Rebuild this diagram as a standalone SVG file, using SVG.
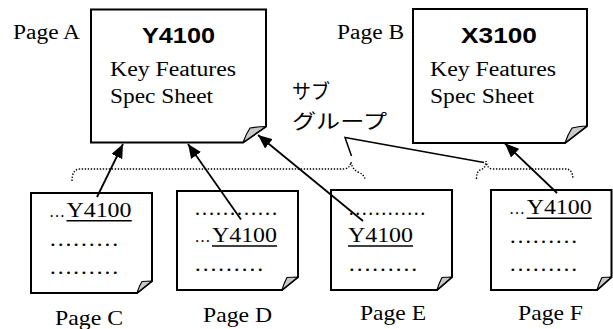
<svg xmlns="http://www.w3.org/2000/svg" width="613" height="329" viewBox="0 0 613 329">
<defs>
<style>
.box{fill:#fff;stroke:#000;stroke-width:2;stroke-linejoin:miter}
.fold{fill:#c8c8c8;stroke:#000;stroke-width:1.2;stroke-linejoin:round}
.t{font-family:"Liberation Serif",serif;fill:#000}
.b{font-family:"Liberation Sans",sans-serif;font-weight:bold;fill:#000}
.jp{font-family:"Liberation Serif","Noto Sans CJK JP",serif;fill:#000}
.ul{stroke:#000;stroke-width:1.5}
.arrow{stroke:#000;stroke-width:1.8;fill:none}
.brace{stroke:#000;stroke-width:1.4;fill:none;stroke-dasharray:1.4 1.6}
.call{stroke:#000;stroke-width:1.5;fill:none}
.el{font-size:16px}
</style>
<marker id="ah" markerUnits="userSpaceOnUse" markerWidth="15" markerHeight="12" refX="14" refY="6" orient="auto">
<path d="M0,0 L14,6 L0,12 Z" fill="#000"/>
</marker>
</defs>

<g id="pageA">
<path class="box" d="M91,9.5 H266 V126.5 L243,142.5 H91 Z"/>
<path class="fold" d="M243,142.5 Q246,134 250,128 Q258,126.5 266,126.5 Z"/>
<text class="t" x="13" y="39" font-size="20" textLength="67" lengthAdjust="spacingAndGlyphs">Page A</text>
<text class="b" x="142" y="43" font-size="22" textLength="73" lengthAdjust="spacingAndGlyphs">Y4100</text>
<text class="t" x="110" y="76" font-size="20" textLength="126" lengthAdjust="spacingAndGlyphs">Key Features</text>
<text class="t" x="110" y="103" font-size="20" textLength="103" lengthAdjust="spacingAndGlyphs">Spec Sheet</text>
</g>

<g id="pageB">
<path class="box" d="M413,9 H587 V126 L565,143 H413 Z"/>
<path class="fold" d="M565,143 Q568,134 572,128 Q580,126 587,126 Z"/>
<text class="t" x="337" y="39" font-size="20" textLength="67" lengthAdjust="spacingAndGlyphs">Page B</text>
<text class="b" x="461" y="43" font-size="22" textLength="76" lengthAdjust="spacingAndGlyphs">X3100</text>
<text class="t" x="430" y="76" font-size="20" textLength="126" lengthAdjust="spacingAndGlyphs">Key Features</text>
<text class="t" x="430" y="103" font-size="20" textLength="104" lengthAdjust="spacingAndGlyphs">Spec Sheet</text>
</g>

<g id="pageC">
<path class="box" d="M31,193 H152 V281 L137,293 H31 Z"/>
<path class="fold" d="M137,293 Q139,286 142,281.5 Q147,281 152,281 Z"/>
<text class="t" x="49" y="217" font-size="21"><tspan class="el">…</tspan><tspan x="66.5" textLength="65" lengthAdjust="spacingAndGlyphs">Y4100</tspan></text>
<line class="ul" x1="66.5" y1="220.7" x2="131.7" y2="220.7"/>
<text class="t" x="49" y="245.5" font-size="21" textLength="70" lengthAdjust="spacingAndGlyphs">………</text>
<text class="t" x="49" y="274" font-size="21" textLength="70" lengthAdjust="spacingAndGlyphs">………</text>
<text class="t" x="55" y="325" font-size="22" textLength="68" lengthAdjust="spacingAndGlyphs">Page C</text>
</g>

<g id="pageD">
<path class="box" d="M177,191 H298 V277 L282,290 H177 Z"/>
<path class="fold" d="M282,290 Q284,283 287,277.5 Q293,277 298,277 Z"/>
<text class="t" x="194" y="214.5" font-size="21" textLength="84" lengthAdjust="spacingAndGlyphs">…………</text>
<text class="t" x="194.5" y="242.3" font-size="21"><tspan class="el">…</tspan><tspan x="212" textLength="65" lengthAdjust="spacingAndGlyphs">Y4100</tspan></text>
<line class="ul" x1="212" y1="246" x2="277" y2="246"/>
<text class="t" x="194" y="270.5" font-size="21" textLength="70" lengthAdjust="spacingAndGlyphs">………</text>
<text class="t" x="203" y="321.7" font-size="22" textLength="69" lengthAdjust="spacingAndGlyphs">Page D</text>
</g>

<g id="pageE">
<path class="box" d="M331,190 H452 V277 L437,290 H331 Z"/>
<path class="fold" d="M437,290 Q439,283 442,277.5 Q447,277 452,277 Z"/>
<text class="t" x="348" y="214.5" font-size="21" textLength="78" lengthAdjust="spacingAndGlyphs">…………</text>
<text class="t" x="348" y="242.3" font-size="21" textLength="65" lengthAdjust="spacingAndGlyphs">Y4100</text>
<line class="ul" x1="348" y1="246" x2="413" y2="246"/>
<text class="t" x="348" y="270.5" font-size="21" textLength="70" lengthAdjust="spacingAndGlyphs">………</text>
<text class="t" x="360" y="320" font-size="22" textLength="66" lengthAdjust="spacingAndGlyphs">Page E</text>
</g>

<g id="pageF">
<path class="box" d="M491,190 H611.5 V277 L597,290 H491 Z"/>
<path class="fold" d="M597,290 Q599,283 602,277.5 Q607,277 611.5,277 Z"/>
<text class="t" x="509" y="214" font-size="21"><tspan class="el">…</tspan><tspan x="526.7" textLength="65" lengthAdjust="spacingAndGlyphs">Y4100</tspan></text>
<line class="ul" x1="526.7" y1="218.3" x2="591.7" y2="218.3"/>
<text class="t" x="509" y="243" font-size="21" textLength="69" lengthAdjust="spacingAndGlyphs">………</text>
<text class="t" x="509" y="270.5" font-size="21" textLength="69" lengthAdjust="spacingAndGlyphs">………</text>
<text class="t" x="518" y="320" font-size="22" textLength="65" lengthAdjust="spacingAndGlyphs">Page F</text>
</g>

<g id="subgroup">
<text class="jp" x="292" y="99" font-size="20" textLength="38" lengthAdjust="spacingAndGlyphs">サブ</text>
<text class="jp" x="292" y="129" font-size="20" textLength="95" lengthAdjust="spacingAndGlyphs">グループ</text>
<path class="brace" d="M72,181 Q72,169 80,169 H344 Q350,168.5 351,162 Q352,169 358,172 Q365,175 365,180"/>
<path class="brace" d="M476.5,179 Q476.5,171 481,169.5 Q485.5,168.5 486,161 Q487,169 493,169 H566 Q572.5,169 573,179"/>
</g>

<g id="connectors">
<path class="call" d="M351.5,156 L345,137.5 L484,162.5"/>
<line class="arrow" x1="97" y1="197" x2="123" y2="144" marker-end="url(#ah)"/>
<line class="arrow" x1="241" y1="219.5" x2="188" y2="144" marker-end="url(#ah)"/>
<line class="arrow" x1="363" y1="221" x2="258" y2="135" marker-end="url(#ah)"/>
<line class="arrow" x1="557" y1="193" x2="505" y2="143.5" marker-end="url(#ah)"/>
</g>
</svg>
